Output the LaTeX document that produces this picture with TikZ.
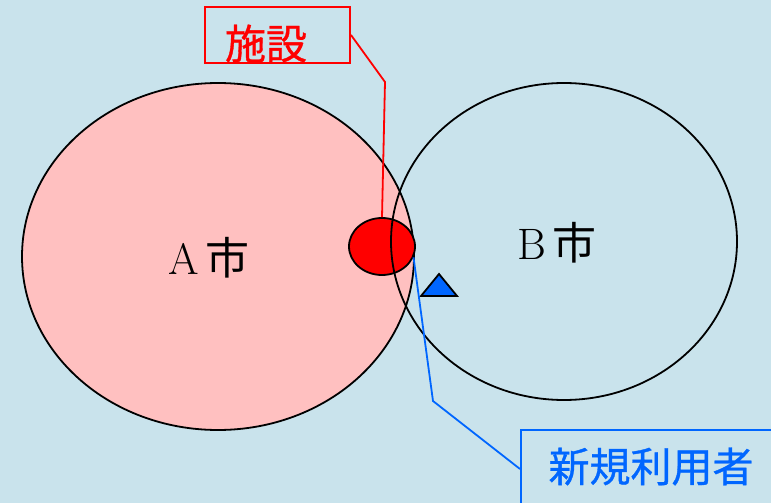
\documentclass[tikz,border=0pt]{standalone}
\usepackage{fontspec}
\newfontfamily\cjk{Noto Sans CJK JP}
\newfontfamily\cjkb[FakeBold=0.8]{Noto Sans CJK JP}
\usetikzlibrary{shapes.geometric}
\definecolor{bg}{RGB}{201,227,236}
\definecolor{cityA}{RGB}{255,192,192}
\definecolor{userblue}{RGB}{0,102,255}
\begin{document}
\begin{tikzpicture}[x=1pt,y=-1pt,
  city/.style={ellipse, draw=black, line width=1.8pt, inner sep=0pt},
  facility/.style={ellipse, draw=black, fill=red, line width=1.8pt, inner sep=0pt, minimum width=66, minimum height=57},
  citylabel/.style={inner sep=0pt, anchor=base west, font=\fontsize{44}{44}\selectfont},
  labelbox/.style={inner sep=0pt, line width=2pt},
  labeltext/.style={inner sep=0pt, font=\cjkb\fontsize{41}{41}\selectfont},
  redline/.style={draw=red, line width=1.8pt},
  blueline/.style={draw=userblue, line width=1.8pt},
  marker/.style={draw=black, fill=userblue, line width=1.8pt, line join=miter}
]
\useasboundingbox (0,0) rectangle (771,503);
\clip (0,0) rectangle (771,503);
\fill[bg] (0,0) rectangle (771,503);

% cities and facility
\node[city, fill=cityA, minimum width=392, minimum height=347] (A) at (218,256.5) {};
\node[facility] (fac) at (382,246.5) {};
\node[city, minimum width=346, minimum height=317] (B) at (564,241.5) {};

\node[citylabel] (Alabel) at (168,274) {A\hspace{7pt}{\cjk 市}};
\node[citylabel] (Blabel) at (517,259) {B\hspace{7pt}{\cjk 市}};

% new user marker
\draw[marker] (439,274) -- (457,296) -- (421,296) -- cycle;

% facility label
\node[labelbox, draw=red, minimum width=145, minimum height=56] (facbox) at (277.5,35) {};
\node[labeltext, text=red] (facname) at (266,43.5) {施設};
\coordinate (facbend) at (385,82);
\draw[redline] (facbox.east) -- (facbend) -- (fac.north);

% new user label
\node[labelbox, draw=userblue, minimum width=300, minimum height=78, anchor=north west] (userbox) at (520,429) {};
\node[labeltext, text=userblue] (username) at (651,466.5) {新規利用者};
\coordinate (userbend) at (433,401);
\draw[blueline] (fac.-19) -- (userbend) -- (userbox.west);
\end{tikzpicture}
\end{document}
